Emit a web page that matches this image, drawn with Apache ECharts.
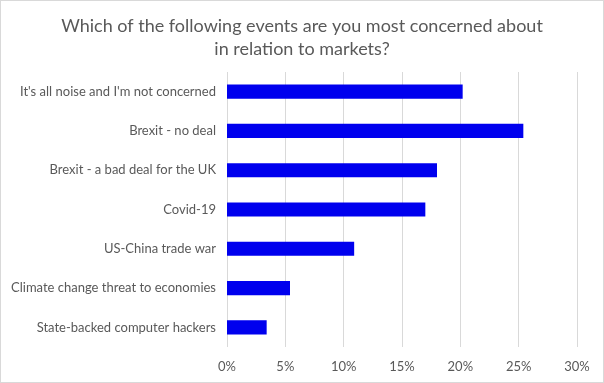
<!DOCTYPE html>
<html><head><meta charset="utf-8">
<script src="https://cdn.jsdelivr.net/npm/echarts@6/dist/echarts.min.js"></script>
<style>html,body{margin:0;padding:0;background:#fff}#c{width:604px;height:383px;box-sizing:border-box;border:1px solid #d9d9d9}</style>
</head><body><div id="c"></div>
<script>
const categories = ["It's all noise and I'm not concerned","Brexit - no deal","Brexit - a bad deal for the UK","Covid-19","US-China trade war","Climate change threat to economies","State-backed computer hackers"];
const values = [0.202,0.254,0.180,0.170,0.109,0.054,0.034];
const titleLines = ["Which of the following events are you most concerned about","in relation to markets?"];
const chart = echarts.init(document.getElementById('c'), null, {renderer:'canvas'});
chart.setOption({
  animation:false,
  title:{text:titleLines.join('\n'),left:'center',top:9,textStyle:{fontFamily:'Lato',fontSize:18,fontWeight:'normal',color:'#595959',lineHeight:23}},
  grid:{left:226,right:26,top:71,bottom:35,containLabel:false},
  xAxis:{type:'value',min:0,max:0.3,interval:0.05,
    axisLabel:{formatter:v=>Math.round(v*100)+'%',color:'#595959',fontFamily:'Lato',fontSize:13,margin:13},
    axisLine:{show:false},axisTick:{show:false},
    splitLine:{lineStyle:{color:'#d9d9d9',width:1}}},
  yAxis:{type:'category',data:categories,inverse:true,
    axisLabel:{color:'#595959',fontFamily:'Lato',fontSize:13,margin:11},
    axisLine:{show:false},axisTick:{show:false}},
  series:[{type:'bar',data:values,barCategoryGap:'64%',itemStyle:{color:'#0000ee'}}]
});
</script></body></html>
